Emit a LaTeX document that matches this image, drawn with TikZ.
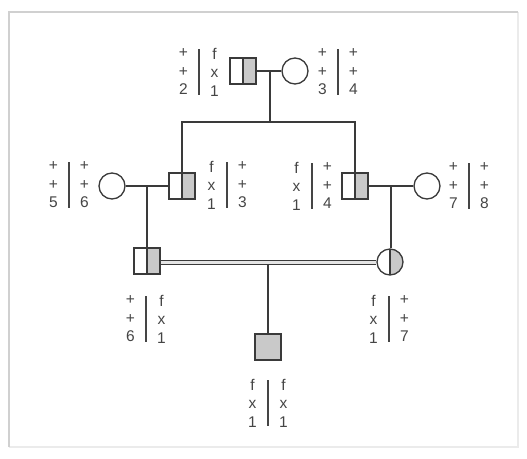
\documentclass[tikz,border=0pt]{standalone}
\usepackage{fontspec}
\setmainfont{Liberation Sans}
\definecolor{linec}{HTML}{3A3A3A}
\definecolor{textc}{HTML}{454545}
\definecolor{shadec}{HTML}{C9C9C9}
\definecolor{framec}{HTML}{D0D0D0}
\definecolor{framefaint}{HTML}{EBEBEB}
\newcommand{\geno}[5]{%
  \node[gt] (#1L) at (#2-15.5,#3) {#4};
  \node[gt] (#1R) at (#2+15.5,#3) {#5};
  \draw[genobar] (#2,#3-23) -- (#2,#3+23);}
\begin{document}
\begin{tikzpicture}[x=1pt,y=-1pt,
  ln/.style={draw=linec, line width=1.3pt},
  sq/.style={rectangle, draw=linec, line width=1.3pt, minimum size=26pt, inner sep=0pt},
  ci/.style={circle, draw=linec, line width=1.3pt, minimum size=26pt, inner sep=0pt},
  halfshade/.style={path picture={\fill[shadec] (path picture bounding box.north) rectangle (path picture bounding box.south east);
     \draw[linec, line width=1.3pt] (path picture bounding box.north) -- (path picture bounding box.south);}},
  fullshade/.style={fill=shadec},
  gt/.style={text=textc, font=\fontsize{15.5}{18.5}\selectfont, align=center, inner sep=0pt},
  genobar/.style={draw=textc, line width=1.5pt}]
\useasboundingbox (0,0) rectangle (527,458);
\draw[framefaint, line width=1.5pt] (518,12) -- (518,447) -- (9,447);
\draw[framec, line width=1.5pt] (9,447) -- (9,12) -- (518,12);

% generation I
\node[sq, halfshade] (I1) at (243,71) {};
\node[ci] (I2) at (295,71) {};
% generation II
\node[ci] (II1) at (112,186) {};
\node[sq, halfshade] (II2) at (182,186) {};
\node[sq, halfshade] (II3) at (355,186) {};
\node[ci] (II4) at (427,186) {};
% generation III
\node[sq, halfshade] (III1) at (147,261) {};
\node[ci, halfshade] (III2) at (390,262) {};
% generation IV
\node[sq, fullshade] (IV1) at (268,347) {};

% connectors
\coordinate (m1) at (270,71);
\coordinate (sib) at (270,122);
\draw[ln] (I1.east) -- (I2.west);
\draw[ln] (m1) -- (sib);
\draw[ln] (II2.north) -- (II2.north |- sib) -- (II3.north |- sib) -- (II3.north);

\coordinate (m2) at (147,186);
\draw[ln] (II1.east) -- (II2.west);
\draw[ln] (m2) -- (III1.north);

\coordinate (m3) at (391,186);
\draw[ln] (II3.east) -- (II4.west);
\draw[ln] (m3) -- (m3 |- III2.north);

\draw[linec, line width=1.2pt, double=shadec!50, double distance=2.2pt] (III1.east |- 0,262.5) -- (III2.west |- 0,262.5);
\coordinate (m4) at (268,264.2);
\draw[ln] (m4) -- (IV1.north);

% genotype labels
\geno{gI1}{199}{72}{+\\+\\2}{f\\x\\1}
\geno{gI2}{338}{72}{+\\+\\3}{+\\+\\4}
\geno{gII1}{69}{185}{+\\+\\5}{+\\+\\6}
\geno{gII2}{227}{185}{f\\x\\1}{+\\+\\3}
\geno{gII3}{312}{186}{f\\x\\1}{+\\+\\4}
\geno{gII4}{469}{186}{+\\+\\7}{+\\+\\8}
\geno{gIII1}{146}{319}{+\\+\\6}{f\\x\\1}
\geno{gIII2}{389}{319}{f\\x\\1}{+\\+\\7}
\geno{gIV1}{268}{403}{f\\x\\1}{f\\x\\1}
\end{tikzpicture}
\end{document}
